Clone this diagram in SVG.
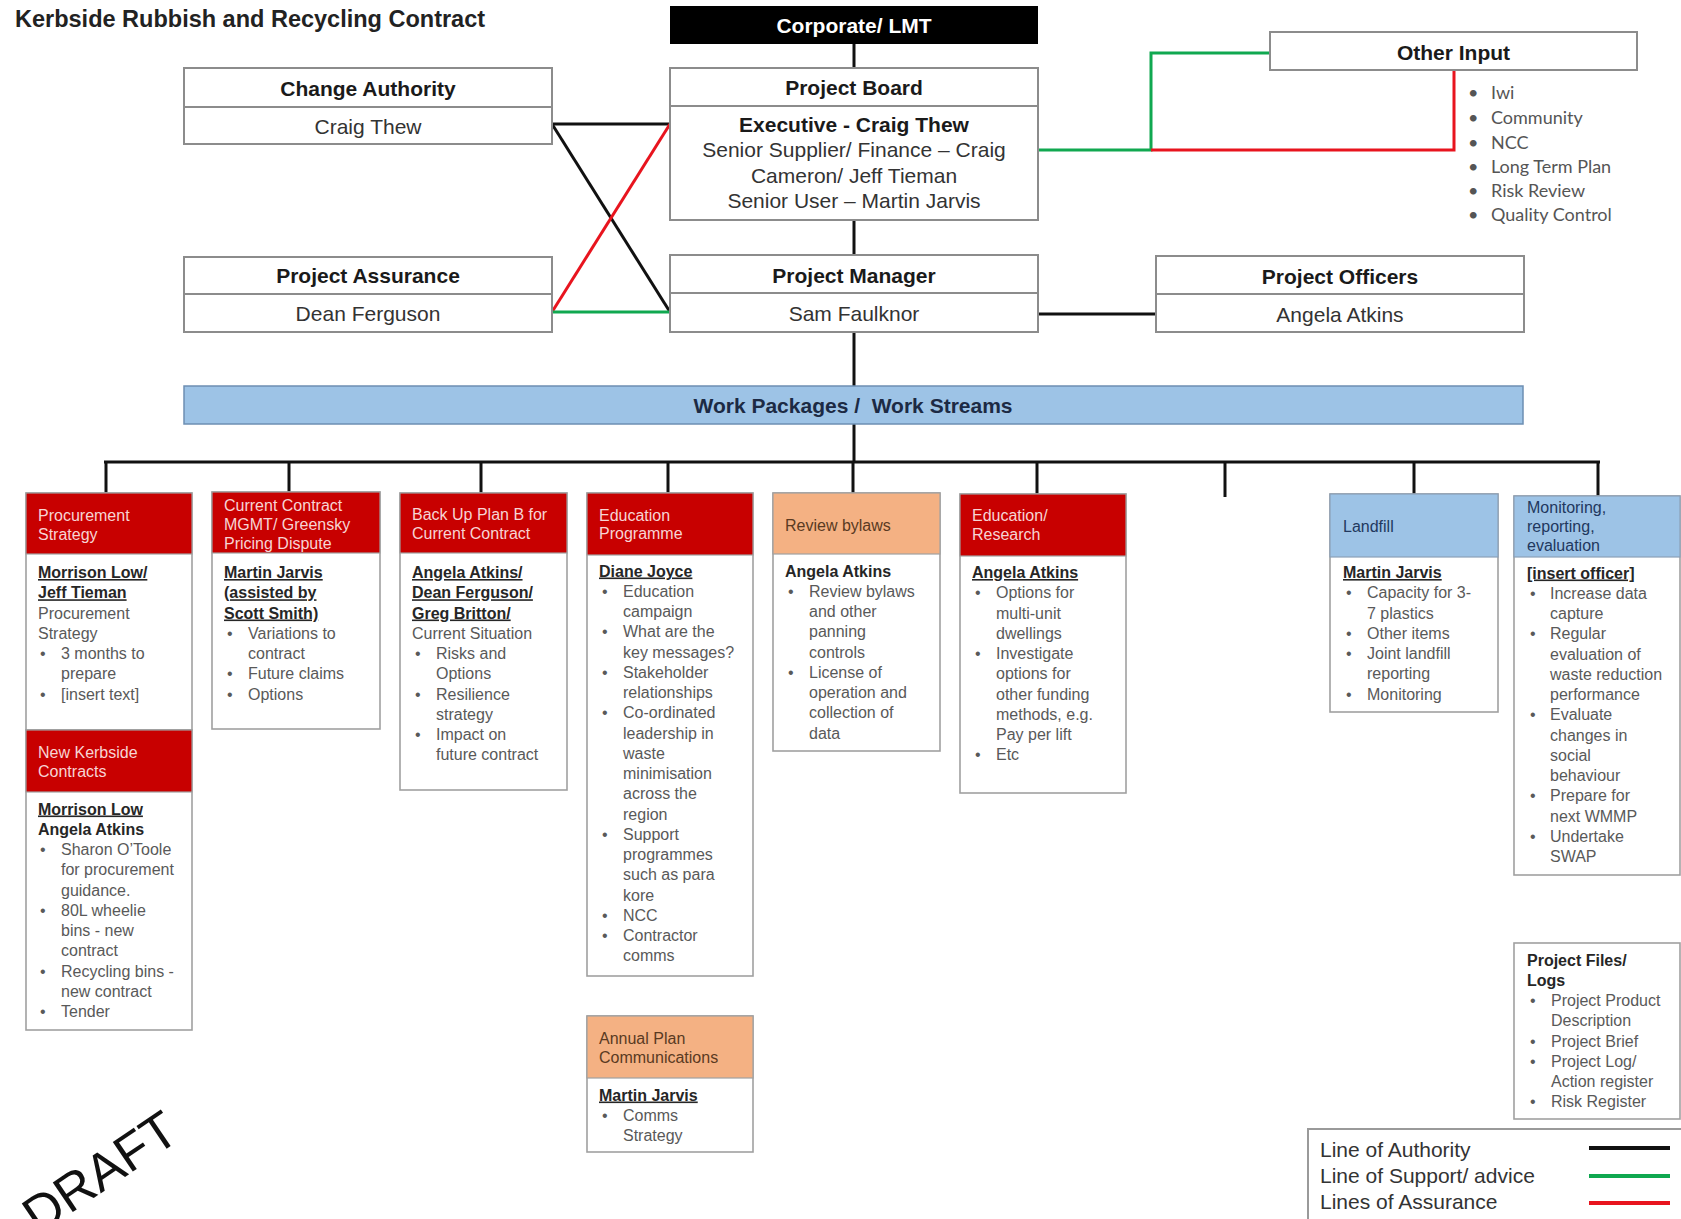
<svg xmlns="http://www.w3.org/2000/svg" width="1681" height="1219" viewBox="0 0 1681 1219">
<style>
text{font-family:"Liberation Sans",Arial,sans-serif}
.big{font-size:21px;fill:#333;text-anchor:middle}
.bigb{font-size:21px;fill:#1a1a1a;font-weight:bold;text-anchor:middle}
.box{fill:#fff;stroke:#8c8c8c;stroke-width:2}
.wb{fill:#fff;stroke:#a0a0a0;stroke-width:1.6}
.hr{fill:#c80000;stroke:#a0a0a0;stroke-width:1.2}
.ho{fill:#f4b183;stroke:#a0a0a0;stroke-width:1.2}
.hbl{fill:#9dc3e6;stroke:#8aa0b8;stroke-width:1.2}
.ht{font-size:16px;fill:#f7d4d4}
.hto{font-size:16px;fill:#5a3a22}
.htb{font-size:16px;fill:#22385e}
.t{font-size:16px;fill:#595959}
.n{font-weight:bold;fill:#262626}
.u{text-decoration:underline}
.k{stroke:#111;stroke-width:3;fill:none}
.g{stroke:#10a850;stroke-width:3;fill:none}
.r{stroke:#e8141e;stroke-width:3;fill:none}
.oi{font-family:Lato,"Open Sans",sans-serif;font-size:18px;fill:#555}
</style>

<text x="15" y="27" font-size="23.5" font-weight="bold" fill="#222">Kerbside Rubbish and Recycling Contract</text>

<g id="connectors">
<line class="k" x1="854" y1="44" x2="854" y2="68"/>
<line class="k" x1="854" y1="220" x2="854" y2="255"/>
<line class="k" x1="854" y1="332" x2="854" y2="386"/>
<line class="k" x1="854" y1="424" x2="854" y2="462"/>
<line class="k" stroke-width="4" x1="1038" y1="314" x2="1156" y2="314"/>
<line class="k" x1="552" y1="124" x2="670" y2="124"/>
<line class="k" x1="552" y1="124" x2="670" y2="312"/>
<line class="r" x1="552" y1="312" x2="670" y2="124"/>
<line class="g" x1="552" y1="312" x2="670" y2="312"/>
<polyline class="g" points="1038,150 1151,150 1151,53 1270,53"/>
<polyline class="r" points="1151,150 1454,150 1454,70"/>
<line class="k" stroke-width="3.5" x1="104" y1="462" x2="1600" y2="462"/>
<line class="k" x1="106" y1="462" x2="106" y2="493"/>
<line class="k" x1="289" y1="462" x2="289" y2="492"/>
<line class="k" x1="481" y1="462" x2="481" y2="493"/>
<line class="k" x1="668" y1="462" x2="668" y2="493"/>
<line class="k" x1="853" y1="462" x2="853" y2="493"/>
<line class="k" x1="1037" y1="462" x2="1037" y2="494"/>
<line class="k" x1="1225" y1="462" x2="1225" y2="497"/>
<line class="k" x1="1414" y1="462" x2="1414" y2="494"/>
<line class="k" x1="1598" y1="462" x2="1598" y2="496"/>
</g>

<g id="corporate">
<rect x="670" y="6" width="368" height="38" fill="#000"/>
<text x="854" y="32.5" font-size="21" font-weight="bold" fill="#fff" text-anchor="middle">Corporate/ LMT</text>
</g>

<g id="project-board">
<rect class="box" x="670" y="68" width="368" height="152"/>
<line x1="670" y1="106" x2="1038" y2="106" stroke="#8c8c8c" stroke-width="2"/>
<text class="bigb" x="854" y="94.5">Project Board</text>
<text class="bigb" x="854" y="132">Executive - Craig Thew</text>
<text class="big" x="854" y="157">Senior Supplier/ Finance – Craig</text>
<text class="big" x="854" y="183">Cameron/ Jeff Tieman</text>
<text class="big" x="854" y="208">Senior User – Martin Jarvis</text>
</g>

<g id="change-authority">
<rect class="box" x="184" y="68" width="368" height="76"/>
<line x1="184" y1="107" x2="552" y2="107" stroke="#8c8c8c" stroke-width="2"/>
<text class="bigb" x="368" y="95.5">Change Authority</text>
<text class="big" x="368" y="133.5">Craig Thew</text>
</g>

<g id="project-assurance">
<rect class="box" x="184" y="257" width="368" height="75"/>
<line x1="184" y1="294" x2="552" y2="294" stroke="#8c8c8c" stroke-width="2"/>
<text class="bigb" x="368" y="282.5">Project Assurance</text>
<text class="big" x="368" y="320.5">Dean Ferguson</text>
</g>

<g id="project-manager">
<rect class="box" x="670" y="255" width="368" height="77"/>
<line x1="670" y1="293" x2="1038" y2="293" stroke="#8c8c8c" stroke-width="2"/>
<text class="bigb" x="854" y="282.5">Project Manager</text>
<text class="big" x="854" y="320.5">Sam Faulknor</text>
</g>

<g id="project-officers">
<rect class="box" x="1156" y="256" width="368" height="76"/>
<line x1="1156" y1="294" x2="1524" y2="294" stroke="#8c8c8c" stroke-width="2"/>
<text class="bigb" x="1340" y="283.5">Project Officers</text>
<text class="big" x="1340" y="321.5">Angela Atkins</text>
</g>

<g id="other-input">
<rect class="box" x="1270" y="32" width="367" height="38"/>
<text class="bigb" x="1453.5" y="59.5">Other Input</text>
<text class="oi"><tspan x="1468" y="99">•</tspan><tspan x="1491">Iwi</tspan><tspan x="1468" y="124">•</tspan><tspan x="1491">Community</tspan><tspan x="1468" y="149">•</tspan><tspan x="1491">NCC</tspan><tspan x="1468" y="173">•</tspan><tspan x="1491">Long Term Plan</tspan><tspan x="1468" y="197">•</tspan><tspan x="1491">Risk Review</tspan><tspan x="1468" y="221">•</tspan><tspan x="1491">Quality Control</tspan></text>
</g>

<g id="work-packages">
<rect x="184" y="386" width="1339" height="38" fill="#9dc3e6" stroke="#6d8fb3" stroke-width="1.5"/>
<text x="853" y="412.5" font-size="21" font-weight="bold" fill="#1c2a44" text-anchor="middle" xml:space="preserve">Work Packages /  Work Streams</text>
</g>

<g id="wp-procurement">
<rect class="wb" x="26" y="493" width="166" height="237"/>
<rect class="hr" x="26" y="493" width="166" height="61"/>
<text class="ht"><tspan x="38" y="520.5">Procurement</tspan><tspan x="38" y="539.5">Strategy</tspan></text>
<text class="t"><tspan x="38" y="578" class="n u">Morrison Low/</tspan><tspan x="38" y="598.25" class="n u">Jeff Tieman</tspan><tspan x="38" y="618.5">Procurement</tspan><tspan x="38" y="638.75">Strategy</tspan><tspan x="40" y="659">•</tspan><tspan x="61">3 months to</tspan><tspan x="61" y="679.25">prepare</tspan><tspan x="40" y="699.5">•</tspan><tspan x="61">[insert text]</tspan></text>
</g>

<g id="wp-new-kerbside">
<rect class="wb" x="26" y="730" width="166" height="300"/>
<rect class="hr" x="26" y="730" width="166" height="62"/>
<text class="ht"><tspan x="38" y="758">New Kerbside</tspan><tspan x="38" y="777">Contracts</tspan></text>
<text class="t"><tspan x="38" y="814.5" class="n u">Morrison Low</tspan><tspan x="38" y="834.75" class="n">Angela Atkins</tspan><tspan x="40" y="855">•</tspan><tspan x="61">Sharon O’Toole</tspan><tspan x="61" y="875.25">for procurement</tspan><tspan x="61" y="895.5">guidance.</tspan><tspan x="40" y="915.75">•</tspan><tspan x="61">80L wheelie</tspan><tspan x="61" y="936">bins - new</tspan><tspan x="61" y="956.25">contract</tspan><tspan x="40" y="976.5">•</tspan><tspan x="61">Recycling bins -</tspan><tspan x="61" y="996.75">new contract</tspan><tspan x="40" y="1017">•</tspan><tspan x="61">Tender</tspan></text>
</g>

<g id="wp-current-contract">
<rect class="wb" x="212" y="492" width="168" height="237"/>
<rect class="hr" x="212" y="492" width="168" height="61"/>
<text class="ht"><tspan x="224" y="510.5">Current Contract</tspan><tspan x="224" y="529.5">MGMT/ Greensky</tspan><tspan x="224" y="548.5">Pricing Dispute</tspan></text>
<text class="t"><tspan x="224" y="578" class="n u">Martin Jarvis</tspan><tspan x="224" y="598.25" class="n u">(assisted by</tspan><tspan x="224" y="618.5" class="n u">Scott Smith)</tspan><tspan x="227" y="638.75">•</tspan><tspan x="248">Variations to</tspan><tspan x="248" y="659">contract</tspan><tspan x="227" y="679.25">•</tspan><tspan x="248">Future claims</tspan><tspan x="227" y="699.5">•</tspan><tspan x="248">Options</tspan></text>
</g>

<g id="wp-backup">
<rect class="wb" x="400" y="493" width="167" height="297"/>
<rect class="hr" x="400" y="493" width="167" height="60"/>
<text class="ht"><tspan x="412" y="519.5">Back Up Plan B for</tspan><tspan x="412" y="538.5">Current Contract</tspan></text>
<text class="t"><tspan x="412" y="578" class="n u">Angela Atkins/</tspan><tspan x="412" y="598.25" class="n u">Dean Ferguson/</tspan><tspan x="412" y="618.5" class="n u">Greg Britton/</tspan><tspan x="412" y="638.75">Current Situation</tspan><tspan x="415" y="659">•</tspan><tspan x="436">Risks and</tspan><tspan x="436" y="679.25">Options</tspan><tspan x="415" y="699.5">•</tspan><tspan x="436">Resilience</tspan><tspan x="436" y="719.75">strategy</tspan><tspan x="415" y="740">•</tspan><tspan x="436">Impact on</tspan><tspan x="436" y="760.25">future contract</tspan></text>
</g>

<g id="wp-education-programme">
<rect class="wb" x="587" y="493" width="166" height="483"/>
<rect class="hr" x="587" y="493" width="166" height="62"/>
<text class="ht"><tspan x="599" y="520.5">Education</tspan><tspan x="599" y="539">Programme</tspan></text>
<text class="t"><tspan x="599" y="576.5" class="n u">Diane Joyce</tspan><tspan x="602" y="596.75">•</tspan><tspan x="623">Education</tspan><tspan x="623" y="617">campaign</tspan><tspan x="602" y="637.25">•</tspan><tspan x="623">What are the</tspan><tspan x="623" y="657.5">key messages?</tspan><tspan x="602" y="677.75">•</tspan><tspan x="623">Stakeholder</tspan><tspan x="623" y="698">relationships</tspan><tspan x="602" y="718.25">•</tspan><tspan x="623">Co-ordinated</tspan><tspan x="623" y="738.5">leadership in</tspan><tspan x="623" y="758.75">waste</tspan><tspan x="623" y="779">minimisation</tspan><tspan x="623" y="799.25">across the</tspan><tspan x="623" y="819.5">region</tspan><tspan x="602" y="839.75">•</tspan><tspan x="623">Support</tspan><tspan x="623" y="860">programmes</tspan><tspan x="623" y="880.25">such as para</tspan><tspan x="623" y="900.5">kore</tspan><tspan x="602" y="920.75">•</tspan><tspan x="623">NCC</tspan><tspan x="602" y="941">•</tspan><tspan x="623">Contractor</tspan><tspan x="623" y="961.25">comms</tspan></text>
</g>

<g id="wp-annual-plan">
<rect class="wb" x="587" y="1016" width="166" height="136"/>
<rect class="ho" x="587" y="1016" width="166" height="62"/>
<text class="hto"><tspan x="599" y="1043.5">Annual Plan</tspan><tspan x="599" y="1062.5">Communications</tspan></text>
<text class="t"><tspan x="599" y="1100.5" class="n u">Martin Jarvis</tspan><tspan x="602" y="1120.75">•</tspan><tspan x="623">Comms</tspan><tspan x="623" y="1141">Strategy</tspan></text>
</g>

<g id="wp-review-bylaws">
<rect class="wb" x="773" y="493" width="167" height="258"/>
<rect class="ho" x="773" y="493" width="167" height="61"/>
<text class="hto"><tspan x="785" y="530.5">Review bylaws</tspan></text>
<text class="t"><tspan x="785" y="576.5" class="n">Angela Atkins</tspan><tspan x="788" y="596.75">•</tspan><tspan x="809">Review bylaws</tspan><tspan x="809" y="617">and other</tspan><tspan x="809" y="637.25">panning</tspan><tspan x="809" y="657.5">controls</tspan><tspan x="788" y="677.75">•</tspan><tspan x="809">License of</tspan><tspan x="809" y="698">operation and</tspan><tspan x="809" y="718.25">collection of</tspan><tspan x="809" y="738.5">data</tspan></text>
</g>

<g id="wp-education-research">
<rect class="wb" x="960" y="494" width="166" height="299"/>
<rect class="hr" x="960" y="494" width="166" height="62"/>
<text class="ht"><tspan x="972" y="520.5">Education/</tspan><tspan x="972" y="539.5">Research</tspan></text>
<text class="t"><tspan x="972" y="578" class="n u">Angela Atkins</tspan><tspan x="975" y="598.25">•</tspan><tspan x="996">Options for</tspan><tspan x="996" y="618.5">multi-unit</tspan><tspan x="996" y="638.75">dwellings</tspan><tspan x="975" y="659">•</tspan><tspan x="996">Investigate</tspan><tspan x="996" y="679.25">options for</tspan><tspan x="996" y="699.5">other funding</tspan><tspan x="996" y="719.75">methods, e.g.</tspan><tspan x="996" y="740">Pay per lift</tspan><tspan x="975" y="760.25">•</tspan><tspan x="996">Etc</tspan></text>
</g>

<g id="wp-landfill">
<rect class="wb" x="1330" y="494" width="168" height="218"/>
<rect class="hbl" x="1330" y="494" width="168" height="63"/>
<text class="htb"><tspan x="1343" y="531.5">Landfill</tspan></text>
<text class="t"><tspan x="1343" y="578" class="n u">Martin Jarvis</tspan><tspan x="1346" y="598.25">•</tspan><tspan x="1367">Capacity for 3-</tspan><tspan x="1367" y="618.5">7 plastics</tspan><tspan x="1346" y="638.75">•</tspan><tspan x="1367">Other items</tspan><tspan x="1346" y="659">•</tspan><tspan x="1367">Joint landfill</tspan><tspan x="1367" y="679.25">reporting</tspan><tspan x="1346" y="699.5">•</tspan><tspan x="1367">Monitoring</tspan></text>
</g>

<g id="wp-monitoring">
<rect class="wb" x="1514" y="496" width="166" height="379"/>
<rect class="hbl" x="1514" y="496" width="166" height="61"/>
<text class="htb"><tspan x="1527" y="513">Monitoring,</tspan><tspan x="1527" y="532">reporting,</tspan><tspan x="1527" y="551">evaluation</tspan></text>
<text class="t"><tspan x="1527" y="578.5" class="n u">[insert officer]</tspan><tspan x="1530" y="598.75">•</tspan><tspan x="1550">Increase data</tspan><tspan x="1550" y="619">capture</tspan><tspan x="1530" y="639.25">•</tspan><tspan x="1550">Regular</tspan><tspan x="1550" y="659.5">evaluation of</tspan><tspan x="1550" y="679.75">waste reduction</tspan><tspan x="1550" y="700">performance</tspan><tspan x="1530" y="720.25">•</tspan><tspan x="1550">Evaluate</tspan><tspan x="1550" y="740.5">changes in</tspan><tspan x="1550" y="760.75">social</tspan><tspan x="1550" y="781">behaviour</tspan><tspan x="1530" y="801.25">•</tspan><tspan x="1550">Prepare for</tspan><tspan x="1550" y="821.5">next WMMP</tspan><tspan x="1530" y="841.75">•</tspan><tspan x="1550">Undertake</tspan><tspan x="1550" y="862">SWAP</tspan></text>
</g>

<g id="project-files">
<rect class="wb" x="1514" y="943" width="166" height="176"/>
<text class="t"><tspan x="1527" y="965.5" class="n">Project Files/</tspan><tspan x="1527" y="985.75" class="n">Logs</tspan><tspan x="1530" y="1006">•</tspan><tspan x="1551">Project Product</tspan><tspan x="1551" y="1026.25">Description</tspan><tspan x="1530" y="1046.5">•</tspan><tspan x="1551">Project Brief</tspan><tspan x="1530" y="1066.75">•</tspan><tspan x="1551">Project Log/</tspan><tspan x="1551" y="1087">Action register</tspan><tspan x="1530" y="1107.25">•</tspan><tspan x="1551">Risk Register</tspan></text>
</g>

<g id="legend">
<rect x="1308" y="1129" width="390" height="100" fill="#fff" stroke="#9a9a9a" stroke-width="2"/>
<text font-size="21" fill="#333"><tspan x="1320" y="1157">Line of Authority</tspan><tspan x="1320" y="1183">Line of Support/ advice</tspan><tspan x="1320" y="1209">Lines of Assurance</tspan></text>
<line x1="1589" y1="1148" x2="1670" y2="1148" stroke="#111" stroke-width="4"/>
<line x1="1589" y1="1176" x2="1670" y2="1176" stroke="#10a850" stroke-width="4"/>
<line x1="1589" y1="1203" x2="1670" y2="1203" stroke="#e8141e" stroke-width="4"/>
</g>

<text x="110" y="1187" font-size="52" fill="#111" text-anchor="middle" transform="rotate(-34 110 1187)">DRAFT</text>
</svg>
